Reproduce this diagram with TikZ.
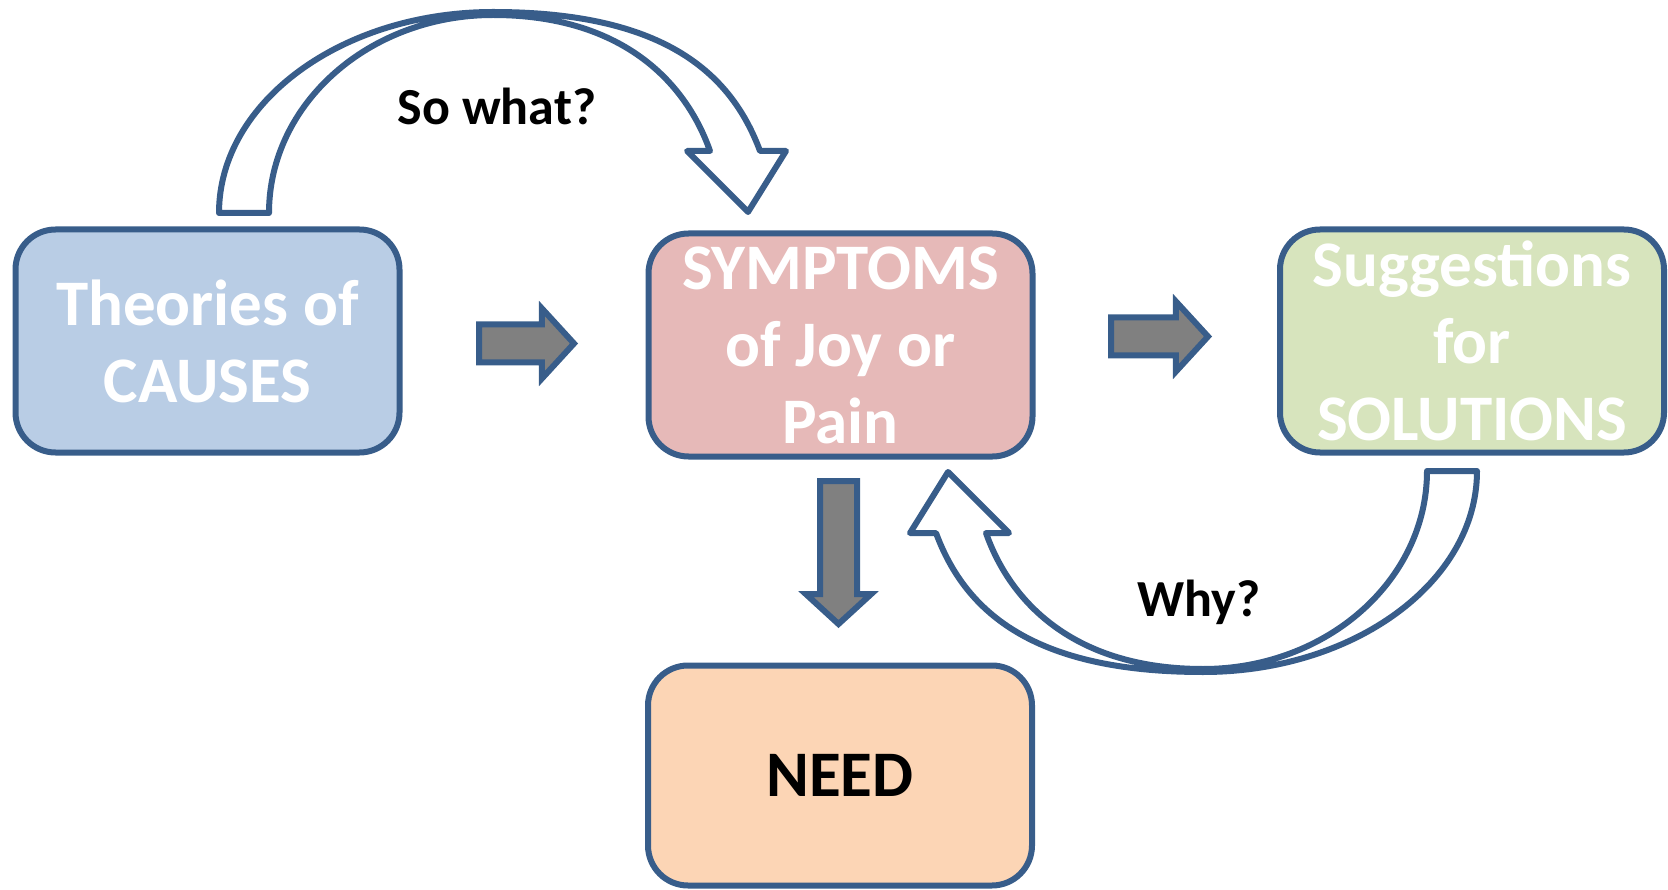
\documentclass[tikz,border=0pt]{standalone}
\usepackage{fontspec}
\setmainfont{Carlito}
\usetikzlibrary{shapes.arrows}
\definecolor{edgeblue}{HTML}{385D8A}
\definecolor{causesblue}{HTML}{B9CDE5}
\definecolor{symptomsred}{HTML}{E6B9B8}
\definecolor{solutionsgreen}{HTML}{D7E4BD}
\definecolor{needorange}{HTML}{FCD5B5}
\definecolor{arrowgray}{HTML}{808080}

\begin{document}
\begin{tikzpicture}[x=1pt,y=-1pt]
  \tikzset{box/.style = {draw=edgeblue, line width=6pt, rounded corners=40pt,
      minimum width=384pt, minimum height=223pt, inner sep=0pt, align=center,
      text=white, font=\fontsize{65}{77}\selectfont\bfseries},
    grayarrow/.style = {single arrow, draw=edgeblue, fill=arrowgray, line width=6pt,
      inner xsep=0pt, inner ysep=16pt, single arrow head extend=16pt,
      single arrow tip angle=95, anchor=tail},
    hollow/.style = {draw=edgeblue, fill=white, line width=6pt, line join=round},
    question/.style = {anchor=base, font=\fontsize{52}{62}\selectfont\bfseries},
    bentarrow/.pic = {
      \draw[hollow] (-274,201) .. controls (-274,90) and (-151,0) .. (0,0)
        .. controls (167,0) and (237,58) .. (267,139) -- (293,139) -- (255,200)
        -- (194,139) -- (217,139) .. controls (192,68) and (127,3) .. (0,3)
        .. controls (-124,3) and (-224,92) .. (-224,201) -- cycle;
    }}
  \useasboundingbox (0,0) rectangle (1668,890);

  \node[box, fill=causesblue] (causes) at (207.5,341) {Theories of\\CAUSES};
  \node[box, fill=symptomsred] (symptoms) at (840.5,345) {SYMPTOMS\\of Joy or\\Pain};
  \node[box, fill=solutionsgreen] (solutions) at (1472,341) {Suggestions\\for\\SOLUTIONS};
  \node[box, fill=needorange, text=black, minimum height=220pt] (need) at (840,775.5) {NEED};

  \node[grayarrow, minimum height=95pt] (tosymptoms) at (476,343.5) {};
  \node[grayarrow, minimum height=97pt] (tosolutions) at (1108,336.5) {};
  \node[grayarrow, minimum height=143pt, inner xsep=15.5pt, inner ysep=0pt,
    single arrow head extend=14pt, shape border rotate=270] (toneed) at (838.5,478) {};

  % curved arrows
  \pic at (493,12) {bentarrow};
  \pic[rotate=180] at (1203,672) {bentarrow};
  \node[question] (sowhat) at (497,125) {So what?};
  \node[question] (why) at (1199,616) {Why?};
\end{tikzpicture}
\end{document}
